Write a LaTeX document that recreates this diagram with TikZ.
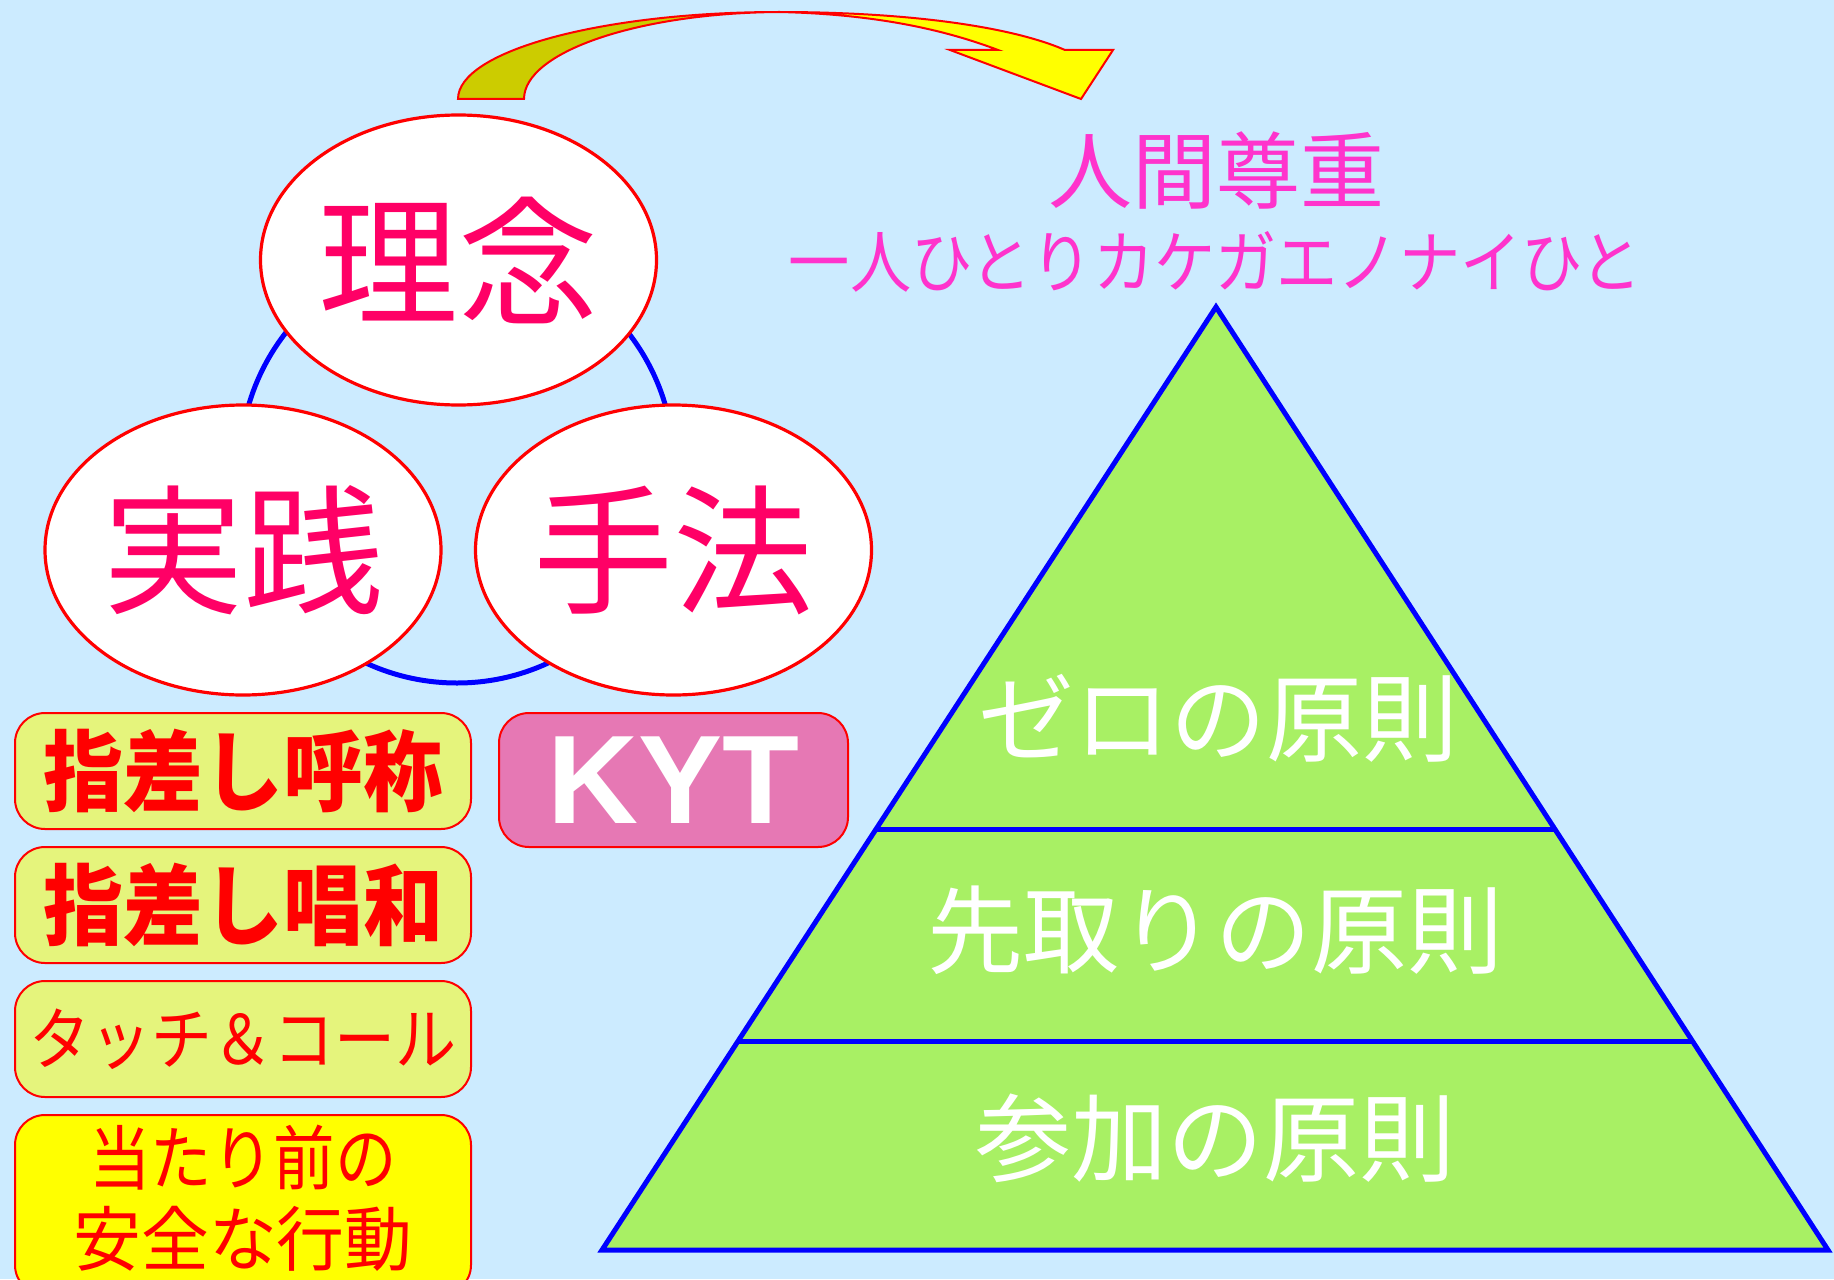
\documentclass[tikz,border=0pt]{standalone}
\usepackage{fontspec}
\usepackage{graphicx}
\setmainfont{Liberation Sans}
\newfontfamily\jp{Noto Sans CJK JP}
\usetikzlibrary{shapes.geometric,calc}
\definecolor{bg}{HTML}{CCEBFF}
\definecolor{rose}{HTML}{FF0066}
\definecolor{pinktext}{HTML}{FF33CC}
\definecolor{boxfill}{HTML}{E5F47C}
\definecolor{kytfill}{HTML}{E678B4}
\definecolor{pyrfill}{HTML}{A8F064}
\definecolor{arrowolive}{HTML}{CCCC00}
\definecolor{arrowyellow}{HTML}{FFFF00}
\newcommand{\tallx}[1]{\scalebox{1}[1.1]{#1}}
\begin{document}
\begin{tikzpicture}[x=0.5pt,y=-0.5pt,
  oval/.style={ellipse, draw=red, fill=white, line width=1.6pt, minimum width=198pt, minimum height=145pt, inner sep=0pt, text=rose, font=\jp\fontsize{70pt}{70pt}\selectfont},
  pill/.style={rectangle, rounded corners=15pt, draw=red, line width=1pt, inner sep=0pt, minimum width=228pt, align=center},
  pyrtext/.style={text=white, font=\jp\fontsize{48pt}{48pt}\selectfont, inner sep=0pt},
  pyrline/.style={draw=blue, line width=2.5pt}
]
\fill[bg] (0,0) rectangle (1834,1279);
\useasboundingbox (0,0) rectangle (1834,1279);

% curved arrow
\filldraw[fill=arrowolive, draw=red, line width=1pt] (458,99) .. controls (458,51) and (602,12) .. (779,12) .. controls (638,13) and (524,52) .. (524,99) -- cycle;
\filldraw[fill=arrowyellow, draw=red, line width=1pt, line join=miter] (779,12) .. controls (905,12) and (1010,26) .. (1065,50) -- (1113,50) -- (1081,99) -- (950,50) -- (998,50) .. controls (940,28) and (870,14) .. (779,12) -- cycle;

% blue ring behind the ovals
\coordinate (ringc) at (457,466);
\draw[blue, line width=2.5pt] (ringc) circle[radius=108.5pt];

% ovals
\node[oval] (rinen) at (458.5,260) {理念};
\node[oval] (jissen) at (243,550) {実践};
\node[oval] (shuho) at (673.5,550) {手法};

% boxes
\node[pill, fill=boxfill, minimum height=58pt, text=red, font=\jp\bfseries\fontsize{40pt}{40pt}\selectfont] (b1) at (243,771) {\tallx{指差し呼称}};
\node[pill, fill=boxfill, minimum height=58pt, text=red, font=\jp\bfseries\fontsize{40pt}{40pt}\selectfont] (b2) at (243,905) {\tallx{指差し唱和}};
\node[pill, fill=boxfill, minimum height=58pt, text=red, font=\jp\fontsize{30.5pt}{30.5pt}\selectfont] (b3) at (243,1039) {\scalebox{1}[1.12]{タッチ＆コール}};
\node[pill, fill=arrowyellow, minimum height=90pt] (b4) at (243,1205) {};
\node[text=red, align=center, inner sep=0pt, font=\jp\fontsize{32pt}{40.5pt}\selectfont] (b4t) at (243,1198.5) {\scalebox{0.96}[1.1]{当たり前の}\\\scalebox{1.06}[1.1]{安全な行動}};
\node[pill, fill=kytfill, minimum width=174.5pt, minimum height=67pt, text=white, font=\bfseries\fontsize{63pt}{63pt}\selectfont] (kyt) at (673.5,780) {KYT};

% title
\node[text=pinktext, inner sep=0pt, font=\jp\fontsize{42pt}{42pt}\selectfont] (title) at (1216,170) {人間尊重};
\node[text=pinktext, inner sep=0pt, font=\jp\fontsize{34pt}{34pt}\selectfont] (subtitle) at (1215.5,262) {\scalebox{0.9}[1]{一人ひとりカケガエノナイひと}};

% pyramid
\coordinate (apex) at (1216,307);
\coordinate (bl) at (602,1250);
\coordinate (br) at (1828,1250);
\filldraw[fill=pyrfill, pyrline, line join=miter] (apex) -- (br) -- (bl) -- cycle;
\coordinate (d1l) at ($(apex)!0.5536!(bl)$);
\coordinate (d1r) at ($(apex)!0.5536!(br)$);
\coordinate (d2l) at ($(apex)!0.7794!(bl)$);
\coordinate (d2r) at ($(apex)!0.7794!(br)$);
\draw[pyrline] (d1l) -- (d1r);
\draw[pyrline] (d2l) -- (d2r);
\node[pyrtext] (zero) at (1218,718) {ゼロの原則};
\node[pyrtext] (sakidori) at (1215,930) {先取りの原則};
\node[pyrtext] (sanka) at (1215,1138) {参加の原則};
\end{tikzpicture}
\end{document}
